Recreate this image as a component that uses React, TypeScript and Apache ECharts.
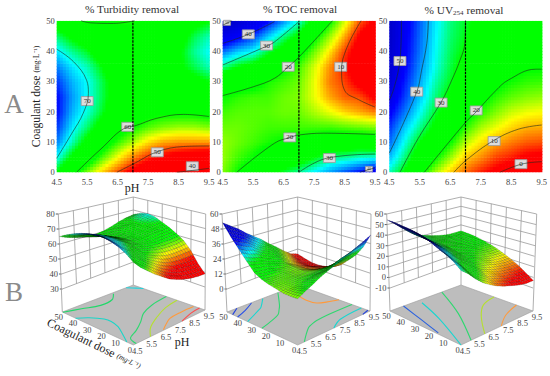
import React, { useEffect, useRef } from "react";
import * as echarts from "echarts";

const PH = [4.5, 5, 5.5, 6, 6.5, 7, 7.5, 8, 8.5, 9, 9.5];
const DOSE = [0, 5, 10, 15, 20, 25, 30, 35, 40, 45, 50];
const X_TICKS = [4.5, 5.5, 6.5, 7.5, 8.5, 9.5];
const DOSE_TICKS = [0, 10, 20, 30, 40, 50];

// rows follow DOSE, columns follow PH
const turbidityGrid = [
  [66.5, 61.5, 57.5, 53.5, 50, 46.5, 44, 42, 40.5, 39.5, 39],
  [70, 66, 62.5, 58.5, 55, 51.5, 49, 47, 46, 45, 44.5],
  [72.5, 69, 65.5, 62, 59, 56.5, 54, 52.5, 52, 52, 52],
  [74, 70.5, 68, 65, 62, 60, 58.5, 57.5, 57, 57, 57.5],
  [75, 71.5, 69.5, 67, 64, 62, 61, 60.5, 60.5, 60.5, 61],
  [75, 72, 70, 67.5, 65, 63, 62.5, 63, 63.5, 63.5, 64],
  [74, 71.5, 70, 67.5, 65, 63, 63, 64, 65, 65.5, 66.5],
  [72.5, 70.5, 69, 66.5, 64, 62.5, 63, 64.5, 66, 67.5, 69],
  [70.5, 68.5, 67, 64.5, 63, 61.5, 62.5, 64.5, 66, 68.5, 70],
  [68, 66, 64.5, 62.5, 61, 60.5, 61.5, 63, 65, 67.5, 69],
  [65, 63, 61.5, 60.5, 59.7, 59.7, 60.5, 62, 64, 65.5, 66.5],
];
const tocGrid = [
  [17, 20, 22.5, 25.5, 28, 30, 32.5, 35, 37.5, 40, 43],
  [16.5, 18.5, 20, 22.5, 24, 25, 27, 29.5, 30, 31, 31.5],
  [16.5, 17.5, 18.5, 19.5, 20.3, 21, 22, 23, 23.5, 24, 23],
  [17.5, 17.5, 18, 18.5, 18.5, 18.5, 18.5, 18.5, 18, 17.5, 17],
  [18.5, 18, 18, 18, 17.5, 17.5, 16, 14.5, 13, 12, 11],
  [20, 19, 18.5, 18.5, 17.5, 17, 14.5, 12, 10.3, 9.8, 7.5],
  [23, 22, 21.5, 19.5, 18.5, 17.5, 14.5, 11, 9.5, 7, 5],
  [29.5, 27, 25.5, 23, 20.5, 18.5, 15, 11.5, 8.5, 5.5, 4],
  [36.5, 33.5, 32, 28, 25, 21.5, 17.5, 13.5, 9.5, 6, 4],
  [44, 41, 38, 33.5, 29.5, 26, 21, 16.5, 12, 7.5, 5.5],
  [53, 49, 45, 40, 35.5, 31, 25.5, 20.5, 15, 10, 7.5],
];
const uvGrid = [
  [34, 28.5, 21.5, 15.5, 11, 7, 4, 1.5, -1, -2.5, -3],
  [39, 32.5, 25, 20.5, 16, 11, 8.5, 5.5, 4, 2, 1.5],
  [42.5, 35.5, 29, 24.5, 20, 15, 12, 9.5, 7.8, 6.5, 6],
  [45, 38.5, 33, 28, 23.5, 19, 15.5, 13.5, 11.5, 10, 9.7],
  [48, 42, 36, 30.3, 26, 22, 19, 16.5, 14.5, 13.5, 13],
  [51, 44.5, 38.5, 32.5, 28, 24, 21.5, 19, 17.5, 16.5, 16],
  [52.5, 46, 39.7, 34, 29.8, 25.5, 23.5, 21.3, 19.7, 18.8, 18.5],
  [53.5, 47.5, 41, 35.5, 30.8, 27, 25, 23, 21.5, 20.4, 20.3],
  [54, 48, 42, 36, 31.5, 28.5, 26, 24, 23, 22, 22],
  [54.5, 48.5, 42.5, 36.5, 32, 29.5, 27, 25, 23.5, 23, 23],
  [54.5, 49, 43, 37, 32.5, 30, 27.5, 25.5, 24, 23.5, 23.5],
];

const turbidityContours = [
  [[4.5, 40.6], [5.05, 36.5], [5.48, 30.4], [5.54, 26], [5.37, 19.5], [5, 12.9], [4.5, 4.6]],
  [[5.15, 0], [5.92, 7.4], [6.83, 15], [7.06, 15.3], [7.78, 17.8], [8.66, 19.1], [9.5, 18.4]],
  [[6.47, 0], [7.06, 3], [7.8, 6.8], [8.66, 8.5], [9.5, 8.7]],
  [[8.44, 0], [8.95, 0.6], [9.5, 1.3]],
  [[5.3, 50], [5.6, 49.3], [6.36, 49.1], [7.06, 50]],
];
const toc40Top = [[4.5, 42.5], [5.34, 45.5], [6.2, 49.7]];
const toc30Top = [[4.5, 35.4], [5.94, 41.6], [6.2, 43], [7, 49.7]];
const toc20Top = [[4.5, 25.3], [5.5, 28.2], [6.2, 31], [6.65, 34.8], [7, 38], [8.1, 50]];
const toc10 = [[9.04, 50], [8.57, 41], [8.4, 33.7], [8.5, 27], [8.95, 24], [9.5, 21.5]];
const toc20Bottom = [[4.96, 0], [6.2, 9.6], [6.7, 11.5], [7, 12.3], [7.8, 12.9], [9.5, 12.5]];
const toc30Bottom = [[7, 0], [7.9, 4.6], [9.5, 6]];
const toc40Bottom = [[9, 0], [9.5, 1.5]];
const toc50Top = [[4.5, 48.5], [4.8, 50]];
const tocContours = [toc50Top, toc40Top, toc30Top, toc20Top, toc10, toc20Bottom, toc30Bottom, toc40Bottom];
const uvContours = [
  [[4.9, 50], [4.88, 41.4], [4.82, 34.8], [4.63, 27], [4.5, 23.8]],
  [[5.78, 50], [5.73, 42.5], [5.56, 33.7], [5.4, 26.5], [4.5, 6.3]],
  [[7, 50], [6.98, 42.6], [6.82, 37], [6.55, 30.4], [6.22, 23.5], [5.45, 11.2], [4.85, 0]],
  [[5.65, 0], [7.02, 16.7], [7.3, 19.4], [8, 27], [8.4, 30.4], [9.3, 34], [9.5, 34]],
  [[6.62, 0], [7, 3.8], [7.91, 10.4], [8.73, 14.2], [9.5, 15.6]],
  [[8.13, 0], [8.84, 2.7], [9.5, 3.5]],
];

// contour projections on the floor of each 3D box
const turbidityFloor = [
  [[4.5, 40.6], [5.05, 36.5], [5.48, 30.4], [5.54, 26], [5.37, 19.5], [5, 12.9], [4.5, 4.6]],
  [[4.5, 49.5], [5.5, 46.5], [6.5, 43], [7.4, 44], [8, 49]],
  [[4.7, 0], [4.9, 6], [5.7, 10], [6.5, 15], [7.3, 21], [8.3, 25], [9.5, 27]],
  [[5.7, 0], [6.4, 7], [7.45, 13], [8.5, 17.5], [9.5, 19.5]],
  [[6.65, 0.5], [7.2, 4], [7.75, 7], [8.6, 7.8], [9.45, 7.5]],
  [[7.9, 0], [8.8, 3], [9.5, 3.8]],
  [[9, 50], [9.3, 46], [9.5, 43]],
];
const tocFloor = [
  [[4.5, 46], [5.2, 50]],
  toc40Top,
  toc30Top,
  toc20Top,
  toc10,
  toc20Bottom,
  toc30Bottom,
  toc40Bottom,
];
const uvFloor = [
  [[5.45, 50], [5, 33], [4.6, 17]],
  [[6.45, 47], [5.75, 28], [4.5, 0]],
  [[8.15, 50], [6.85, 25.5], [5.2, 0]],
  [[6.15, 0], [7.4, 15], [8.45, 24], [9.5, 27]],
  [[7.3, 0], [8.3, 7], [9.5, 11.5]],
];
const turbidityFloorColors = ["#19d6c8", "#22d86a", "#2fd870", "#b5e030", "#ff9a3c", "#ff4c4c", "#19d6e0"];
const tocFloorColors = ["#2040e0", "#2850e8", "#19d6d0", "#2fd870", "#ff9a3c", "#2fd870", "#19d6d0", "#2040e0"];
const uvFloorColors = ["#2860e0", "#19d6d0", "#2fd870", "#b5e030", "#ff9a3c"];

// contour-value boxes: [pH, dose, text]
const turbidityLabels = [[5.5, 23.5, "70"], [6.83, 15, "60"], [7.8, 6.6, "50"], [8.95, 2, "40"]];
const tocLabels = [[5.34, 45.5, "40"], [5.94, 41.8, "30"], [6.65, 34.8, "20"], [8.37, 34.8, "10"], [6.7, 11.5, "20"], [8, 4.7, "30"]];
const tocCornerLabels = [[4.64, 49.3, "50"], [9.3, 1.1, "40"]];
const uvLabels = [[4.85, 36.7, "50"], [5.4, 26.6, "40"], [6.2, 23, "30"], [7.35, 20.4, "20"], [7.94, 10.3, "10"], [8.82, 2.7, "0"]];

const turbidityStops = [[48, "r"], [55, "y"], [60, "g"], [66.5, "g"], [70, "c"], [75, "b"]];
const tocStops = [[8, "r"], [14, "y"], [20, "g"], [27, "g"], [32, "c"], [40, "b"], [53, "d"]];
const uvStops = [[3, "r"], [13, "y"], [20, "g"], [29, "g"], [36, "c"], [47, "b"], [56, "d"]];

const turbidityZTicks = [30, 40, 50, 60, 70, 80];
const tocZTicks = [0, 12, 24, 36, 48, 60];
const uvZTicks = [-10, 0, 10, 20, 30, 40, 50, 60];

const FONT = "'Liberation Serif', 'Times New Roman', serif";
const RGB: any = { r: [255, 0, 0], y: [255, 255, 0], g: [0, 255, 0], c: [0, 255, 255], b: [0, 0, 255], d: [0, 0, 190] };

function colorOf(stops: any[], v: number) {
  if (v <= stops[0][0]) return `rgb(${RGB[stops[0][1]].join(",")})`;
  for (let i = 1; i < stops.length; i++) {
    if (v <= stops[i][0]) {
      const t = (v - stops[i - 1][0]) / (stops[i][0] - stops[i - 1][0]);
      const a = RGB[stops[i - 1][1]];
      const b = RGB[stops[i][1]];
      return `rgb(${a.map((c: number, k: number) => Math.round(c + (b[k] - c) * t)).join(",")})`;
    }
  }
  return `rgb(${RGB[stops[stops.length - 1][1]].join(",")})`;
}
function sample(table: number[][], col: number, row: number) {
  const c = Math.min(Math.floor(col), PH.length - 2);
  const r = Math.min(Math.floor(row), DOSE.length - 2);
  const fc = col - c;
  const fr = row - r;
  return (
    table[r][c] * (1 - fc) * (1 - fr) +
    table[r][c + 1] * fc * (1 - fr) +
    table[r + 1][c] * (1 - fc) * fr +
    table[r + 1][c + 1] * fc * fr
  );
}

const panels = [
  {
    grid: turbidityGrid, stops: turbidityStops, contours: turbidityContours, labels: turbidityLabels, corner: [] as any[],
    floor: turbidityFloor, floorColors: turbidityFloorColors, zTicks: turbidityZTicks,
    left: 56.7, F: [133.3, 345], R: [205, 310], L: [62.3, 312], B: [133.3, 285],
    TF: [133.3, 240], TR: [205.7, 214], TL: [58.3, 214], TB: [133.3, 197],
    title: "% Turbidity removal", titleX: 132,
  },
  {
    grid: tocGrid, stops: tocStops, contours: tocContours, labels: tocLabels, corner: tocCornerLabels,
    floor: tocFloor, floorColors: tocFloorColors, zTicks: tocZTicks,
    left: 222.7, F: [297.7, 345], R: [370, 311], L: [227, 312], B: [297.7, 285],
    TF: [297.7, 240], TR: [371, 214], TL: [222, 214], TB: [297.7, 197],
    title: "% TOC removal", titleX: 300,
  },
  {
    grid: uvGrid, stops: uvStops, contours: uvContours, labels: uvLabels, corner: [] as any[],
    floor: uvFloor, floorColors: uvFloorColors, zTicks: uvZTicks,
    left: 389.3, F: [461, 345], R: [533, 311], L: [390, 311], B: [461, 285],
    TF: [461, 240], TR: [536.7, 214], TL: [386.7, 214], TB: [461, 197],
    title: "% UV{s|254} removal", titleX: 464,
  },
];

const bil = (p: any, a: string, b: string, c: string, d: string, u: number, v: number, k: number) =>
  p[a][k] * (1 - u) * (1 - v) + p[b][k] * u * (1 - v) + p[c][k] * (1 - u) * v + p[d][k] * u * v;
const LIFT = 23;
function project(p: any, u: number, v: number, w: number) {
  const bx = bil(p, "F", "R", "L", "B", u, v, 0);
  const by = bil(p, "F", "R", "L", "B", u, v, 1) - LIFT;
  const tx = bil(p, "TF", "TR", "TL", "TB", u, v, 0);
  const ty = bil(p, "TF", "TR", "TL", "TB", u, v, 1);
  return [bx + (tx - bx) * w, by + (ty - by) * w];
}
function onFloor(p: any, u: number, v: number) {
  return [bil(p, "F", "R", "L", "B", u, v, 0), bil(p, "F", "R", "L", "B", u, v, 1)];
}
const uOf = (ph: number) => (ph - 4.5) / 5;
const vOf = (d: number) => d / 50;

function buildOption() {
  const grids: any[] = [];
  const xAxes: any[] = [];
  const yAxes: any[] = [];
  const series: any[] = [];
  const titles: any[] = [];
  const cells: number[][] = [];
  for (let c = 0; c < PH.length - 1; c++) for (let r = 0; r < DOSE.length - 1; r++) cells.push([c, r]);
  const backToFront: number[][] = [];
  for (let c = PH.length - 2; c >= 0; c--) for (let r = DOSE.length - 2; r >= 0; r--) backToFront.push([c, r]);

  panels.forEach((p, i) => {
    grids.push({ left: p.left, top: 20.7, width: 152.4, height: 151.6, show: false });
    titles.push({
      text: p.title, left: p.titleX, top: 3, padding: 0, textAlign: "center",
      textStyle: { fontFamily: FONT, fontSize: 11.3, fontWeight: "normal", color: "#333",
        rich: { s: { fontFamily: FONT, fontSize: 7, color: "#333", verticalAlign: "bottom", padding: [6, 0, 0, 0] } } },
    });
    xAxes.push({
      gridIndex: i, type: "value", min: 4.5, max: 9.5, interval: 0.5,
      axisLine: { show: false }, axisTick: { show: false }, splitLine: { show: false },
      axisLabel: { fontFamily: FONT, fontSize: 8.5, color: "#444", margin: 5,
        formatter: (v: number) => (X_TICKS.includes(v) ? v.toFixed(1) : "") },
    });
    yAxes.push({
      gridIndex: i, type: "value", min: 0, max: 50, interval: 10,
      axisLine: { show: false }, axisTick: { show: false }, splitLine: { show: false },
      axisLabel: { fontFamily: FONT, fontSize: 8.5, color: "#444", margin: 2 },
      ...(i === 0 ? {
        name: "Coagulant dose {u|(mg·L⁻¹)}", nameLocation: "middle", nameRotate: 90, nameGap: 14,
        nameTextStyle: { fontFamily: FONT, fontSize: 11.6, color: "#222", rich: { u: { fontFamily: FONT, fontSize: 7.5, color: "#222" } } },
      } : {}),
    });

    const S = 5;
    series.push({
      type: "custom", xAxisIndex: i, yAxisIndex: i, data: cells, clip: true, silent: true,
      renderItem: (_: any, api: any) => {
        const c = api.value(0);
        const r = api.value(1);
        const children: any[] = [];
        for (let a = 0; a < S; a++) {
          for (let b = 0; b < S; b++) {
            const col = c + a / S;
            const row = r + b / S;
            const p0 = api.coord([4.5 + col * 0.5, row * 5]);
            const p1 = api.coord([4.5 + (col + 1 / S) * 0.5, (row + 1 / S) * 5]);
            children.push({
              type: "rect",
              shape: { x: p0[0], y: p1[1], width: p1[0] - p0[0] + 0.7, height: p0[1] - p1[1] + 0.7 },
              style: { fill: colorOf(p.stops, sample(p.grid, col + 0.5 / S, row + 0.5 / S)) },
            });
          }
        }
        return { type: "group", children };
      },
    });
    p.contours.forEach((pts: number[][]) => {
      series.push({
        type: "line", xAxisIndex: i, yAxisIndex: i, data: pts, smooth: 0.4, symbol: "none", silent: true,
        lineStyle: { color: "#1c2c1c", width: 0.7, opacity: 0.85 },
      });
    });
    series.push({
      type: "line", xAxisIndex: i, yAxisIndex: i, data: [[7, 0], [7, 50]], symbol: "none", silent: true,
      lineStyle: { color: "#000", width: 1.2, type: [2.5, 1] },
    });
    const labelSeries = (data: any[], size: number[], font: number) => ({
      type: "scatter", xAxisIndex: i, yAxisIndex: i, data, symbol: "rect", symbolSize: size, silent: true,
      itemStyle: { color: "#dcdcdc", borderColor: "#9a9a9a", borderWidth: 0.8, opacity: 1 },
      label: { show: true, position: "inside", fontFamily: FONT, fontSize: font, color: "#333",
        formatter: (q: any) => q.data[2] },
    });
    series.push(labelSeries(p.labels, [12, 9], 7));
    if (p.corner.length) series.push(labelSeries(p.corner, [7, 5], 4));

    // 3D box: walls
    const OV = { type: "custom", xAxisIndex: 3, yAxisIndex: 3, silent: true };
    series.push({
      ...OV, data: [[0, 0]],
      renderItem: (_: any, api: any) => {
        const ch: any[] = [];
        const line = (a: number[], b: number[], color = "#9b9b9b", width = 0.8) =>
          ch.push({ type: "polyline", shape: { points: [api.coord(a), api.coord(b)] }, style: { stroke: color, lineWidth: width, fill: null } });
        const n = p.zTicks.length - 1;
        p.zTicks.forEach((t: number, k: number) => {
          const w = k / n;
          line(project(p, 0, 1, w), project(p, 1, 1, w));
          line(project(p, 1, 1, w), project(p, 1, 0, w));
          const q = project(p, 0, 1, w);
          line([q[0] - 2.5, q[1]], q, "#333", 0.8);
          const at = api.coord([q[0] - 3.5, q[1]]);
          ch.push({ type: "text", x: at[0], y: at[1], style: { text: String(t), fill: "#444", fontFamily: FONT, fontSize: 8.5, align: "right", verticalAlign: "middle" } });
        });
        for (let k = 1; k < 5; k++) {
          line(project(p, k / 5, 1, 0), project(p, k / 5, 1, 1));
          line(project(p, 1, k / 5, 0), project(p, 1, k / 5, 1));
        }
        line(onFloor(p, 0, 1), project(p, 0, 1, 1));
        line(onFloor(p, 1, 1), project(p, 1, 1, 1));
        line(onFloor(p, 1, 0), project(p, 1, 0, 1));
        return { type: "group", children: ch };
      },
    });
    // floor, its contours and its tick labels
    series.push({
      ...OV, data: [[0, 0]],
      renderItem: (_: any, api: any) => {
        const ch: any[] = [];
        ch.push({
          type: "polygon",
          shape: { points: [p.F, p.R, p.B, p.L].map((q: number[]) => api.coord(q)) },
          style: { fill: "#bdbdbd", stroke: "#9b9b9b", lineWidth: 0.6 },
        });
        p.floor.forEach((pts: number[][], k: number) => {
          ch.push({
            type: "polyline",
            shape: { points: pts.map((q) => api.coord(onFloor(p, uOf(q[0]), vOf(q[1])))), smooth: 0.35 },
            style: { stroke: p.floorColors[k], lineWidth: 1.1, fill: null },
          });
        });
        const txt = (q: number[], text: string) => {
          const at = api.coord(q);
          ch.push({ type: "text", x: at[0], y: at[1], style: { text, fill: "#444", fontFamily: FONT, fontSize: 8.5, align: "center", verticalAlign: "middle" } });
        };
        DOSE_TICKS.forEach((d) => {
          const q = onFloor(p, 0, vOf(d));
          txt([q[0] - 3.5, q[1] + 4.5], String(d));
        });
        X_TICKS.forEach((h) => {
          const q = onFloor(p, uOf(h), 0);
          txt([q[0] + 4, q[1] + 5.5], h.toFixed(1));
        });
        return { type: "group", children: ch };
      },
    });
    // surface
    const M = 3;
    const zs = p.zTicks;
    const zMin = zs[0];
    const zMax = zs[zs.length - 1];
    series.push({
      ...OV, data: backToFront,
      renderItem: (_: any, api: any) => {
        const c = api.value(0);
        const r = api.value(1);
        const ch: any[] = [];
        const at = (col: number, row: number) => {
          const z = sample(p.grid, col, row);
          return api.coord(project(p, col / 10, row / 10, (z - zMin) / (zMax - zMin)));
        };
        for (let a = M - 1; a >= 0; a--) {
          for (let b = M - 1; b >= 0; b--) {
            const c0 = c + a / M;
            const c1 = c + (a + 1) / M;
            const r0 = r + b / M;
            const r1 = r + (b + 1) / M;
            ch.push({
              type: "polygon",
              shape: { points: [at(c0, r0), at(c1, r0), at(c1, r1), at(c0, r1)] },
              style: { fill: colorOf(p.stops, sample(p.grid, (c0 + c1) / 2, (r0 + r1) / 2)), stroke: "rgba(0,0,0,0.45)", lineWidth: 0.35 },
            });
          }
        }
        return { type: "group", children: ch };
      },
    });
  });

  // overlay grid in page pixels
  grids.push({ left: 0, top: 0, width: 550, height: 376, show: false });
  xAxes.push({ gridIndex: 3, type: "value", min: 0, max: 550, show: false });
  yAxes.push({ gridIndex: 3, type: "value", min: 0, max: 376, inverse: true, show: false });
  series.push({
    type: "custom", xAxisIndex: 3, yAxisIndex: 3, silent: true, data: [[0, 0]],
    renderItem: (_: any, api: any) => {
      const txt = (q: number[], style: any, rotation = 0) => {
        const at = api.coord(q);
        return { type: "text", x: at[0], y: at[1], rotation, style: { align: "center", verticalAlign: "middle", fontFamily: FONT, ...style } };
      };
      return {
        type: "group",
        children: [
          txt([14, 104], { text: "A", fontSize: 27, fill: "#8a8a8a" }),
          txt([14, 292], { text: "B", fontSize: 27, fill: "#8a8a8a" }),
          txt([132, 187.5], { text: "pH", fontSize: 12, fill: "#222" }),
          txt([182, 342], { text: "pH", fontSize: 12, fill: "#222" }),
          txt([94, 344], {
            text: "Coagulant dose {u|(mg·L⁻¹)}", fontSize: 12, fill: "#222",
            rich: { u: { fontFamily: FONT, fontSize: 7.5, fill: "#222", fontStyle: "italic" } },
          }, -0.45),
        ],
      };
    },
  });

  return { animation: false, backgroundColor: "#fff", title: titles, grid: grids, xAxis: xAxes, yAxis: yAxes, series };
}

export default function App() {
  const ref = useRef<HTMLDivElement>(null);
  useEffect(() => {
    const chart = echarts.init(ref.current!, undefined, { renderer: "svg" });
    chart.setOption(buildOption() as any);
    return () => chart.dispose();
  }, []);
  return <div ref={ref} style={{ position: "absolute", left: 0, top: 0, width: 550, height: 376 }} />;
}
